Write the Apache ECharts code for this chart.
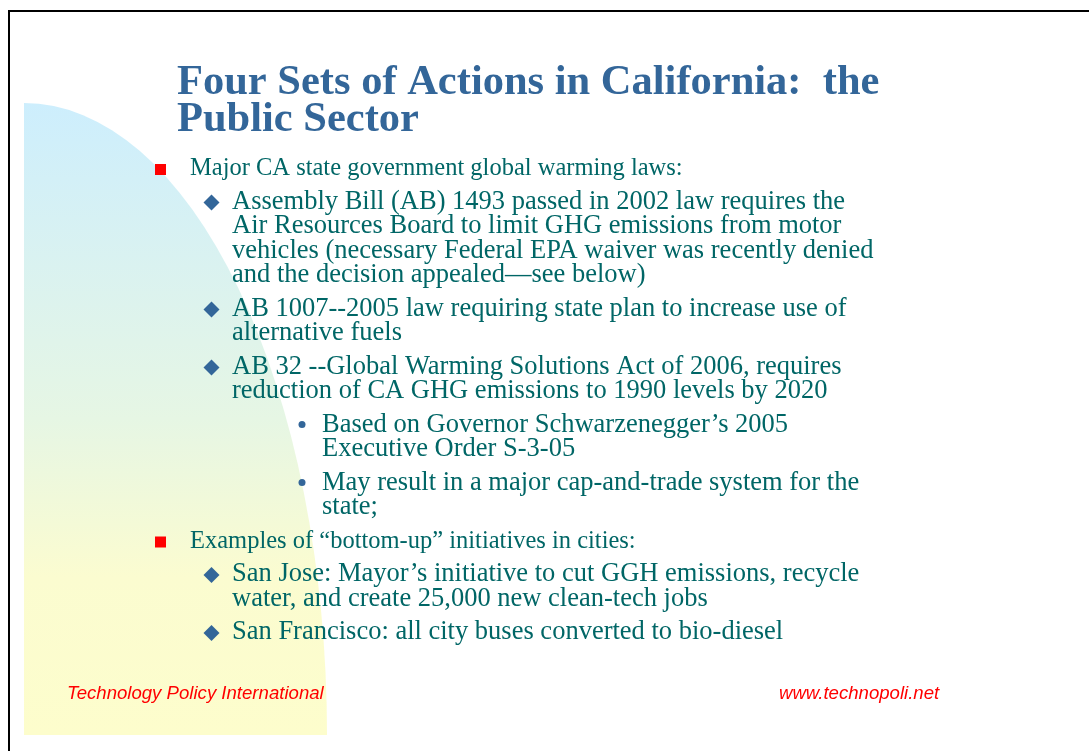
<!DOCTYPE html>
<html>
<head>
<meta charset="utf-8">
<script src="https://cdn.jsdelivr.net/npm/echarts@6/dist/echarts.min.js"></script>
<style>
html,body{margin:0;padding:0;background:#fff;}
#chart{width:1089px;height:751px;}
</style>
</head>
<body>
<div id="chart"></div>
<script>
// ---- slide content ----
const titleLines = ["Four Sets of Actions in California:  the", "Public Sector"];
const paragraphLevels = [1, 2, 2, 2, 3, 3, 1, 2, 2];
const paragraphLines = [
  ["Major CA state government global warming laws:"],
  ["Assembly Bill (AB) 1493 passed in 2002 law requires the",
   "Air Resources Board to limit GHG emissions from motor",
   "vehicles (necessary Federal EPA waiver was recently denied",
   "and the decision appealed\u2014see below)"],
  ["AB 1007--2005 law requiring state plan to increase use of",
   "alternative fuels"],
  ["AB 32 --Global Warming Solutions Act of 2006, requires",
   "reduction of CA GHG emissions to 1990 levels by 2020"],
  ["Based on Governor Schwarzenegger\u2019s 2005",
   "Executive Order S-3-05"],
  ["May result in a major cap-and-trade system for the",
   "state;"],
  ["Examples of \u201cbottom-up\u201d initiatives in cities:"],
  ["San Jose: Mayor\u2019s initiative to cut GGH emissions, recycle",
   "water, and create 25,000 new clean-tech jobs"],
  ["San Francisco: all city buses converted to bio-diesel"]
];
const footerLeft = "Technology Policy International";
const footerRight = "www.technopoli.net";

// ---- styling / layout ----
const SERIF = '"Liberation Serif", "Times New Roman", serif';
const SANS = '"Liberation Sans", Arial, sans-serif';
const TITLE_COLOR = '#336699';
const BODY_COLOR = '#006666';
const LEVEL_SIZE = {1: 24.5, 2: 26.5, 3: 26.5};
const LINE_H = 24.5;
const PARA_GAP = 9;
const MID_OFF = 0.3; // baseline - middle offset (em)

const chart = echarts.init(document.getElementById('chart'), null, {renderer: 'canvas'});
const els = [];

// frame
els.push({type: 'rect', shape: {x: 9, y: 11, width: 1300, height: 1000},
  style: {fill: 'none', stroke: '#000', lineWidth: 2}, z: 1});

// background quarter-ellipse with gradient
els.push({type: 'sector', x: 24, y: 735, scaleY: 632 / 303,
  shape: {cx: 0, cy: 0, r0: 0, r: 303, startAngle: -Math.PI / 2, endAngle: 0},
  style: {fill: new echarts.graphic.LinearGradient(0, 0, 0, 1, [
    {offset: 0, color: '#cdeefd'},
    {offset: 0.5, color: '#e6f6e4'},
    {offset: 0.75, color: '#fbfcd0'},
    {offset: 1, color: '#fdfdcc'}
  ])}, z: 0});

// title
const titleBase = [96, 133];
titleLines.forEach((t, i) => {
  els.push({type: 'text', x: 177, y: titleBase[i] - 42.5 * MID_OFF, z: 5,
    style: {text: t, font: 'bold 42.5px ' + SERIF, fill: TITLE_COLOR, verticalAlign: 'middle', align: 'left'}});
});

// bullets
const textX = {1: 190, 2: 232, 3: 322};
let base = 176;
paragraphLines.forEach((lines, p) => {
  const lvl = paragraphLevels[p];
  const fs = LEVEL_SIZE[lvl];
  if (lvl === 1) {
    els.push({type: 'rect', shape: {x: 155, y: base - 12, width: 11, height: 11},
      style: {fill: '#ff0000'}, z: 5});
  } else if (lvl === 2) {
    els.push({type: 'polygon', x: 211.5, y: base - 7,
      shape: {points: [[0, -8], [8, 0], [0, 8], [-8, 0]]},
      style: {fill: TITLE_COLOR}, z: 5});
  } else {
    els.push({type: 'circle', shape: {cx: 302, cy: base - 8, r: 3.5},
      style: {fill: TITLE_COLOR}, z: 5});
  }
  lines.forEach((ln, i) => {
    els.push({type: 'text', x: textX[lvl], y: base + i * LINE_H - fs * MID_OFF, z: 5,
      style: {text: ln, font: fs + 'px ' + SERIF, fill: BODY_COLOR, verticalAlign: 'middle', align: 'left'}});
  });
  base += lines.length * LINE_H + PARA_GAP;
});

// footer
els.push({type: 'text', x: 67, y: 699 - 18.6 * MID_OFF, z: 5,
  style: {text: footerLeft, font: 'italic 18.6px ' + SANS, fill: '#ff0000', verticalAlign: 'middle', align: 'left'}});
els.push({type: 'text', x: 779, y: 699 - 18.6 * MID_OFF, z: 5,
  style: {text: footerRight, font: 'italic 18.6px ' + SANS, fill: '#ff0000', verticalAlign: 'middle', align: 'left'}});

chart.setOption({backgroundColor: '#ffffff', animation: false, graphic: {elements: els}});
</script>
</body>
</html>
